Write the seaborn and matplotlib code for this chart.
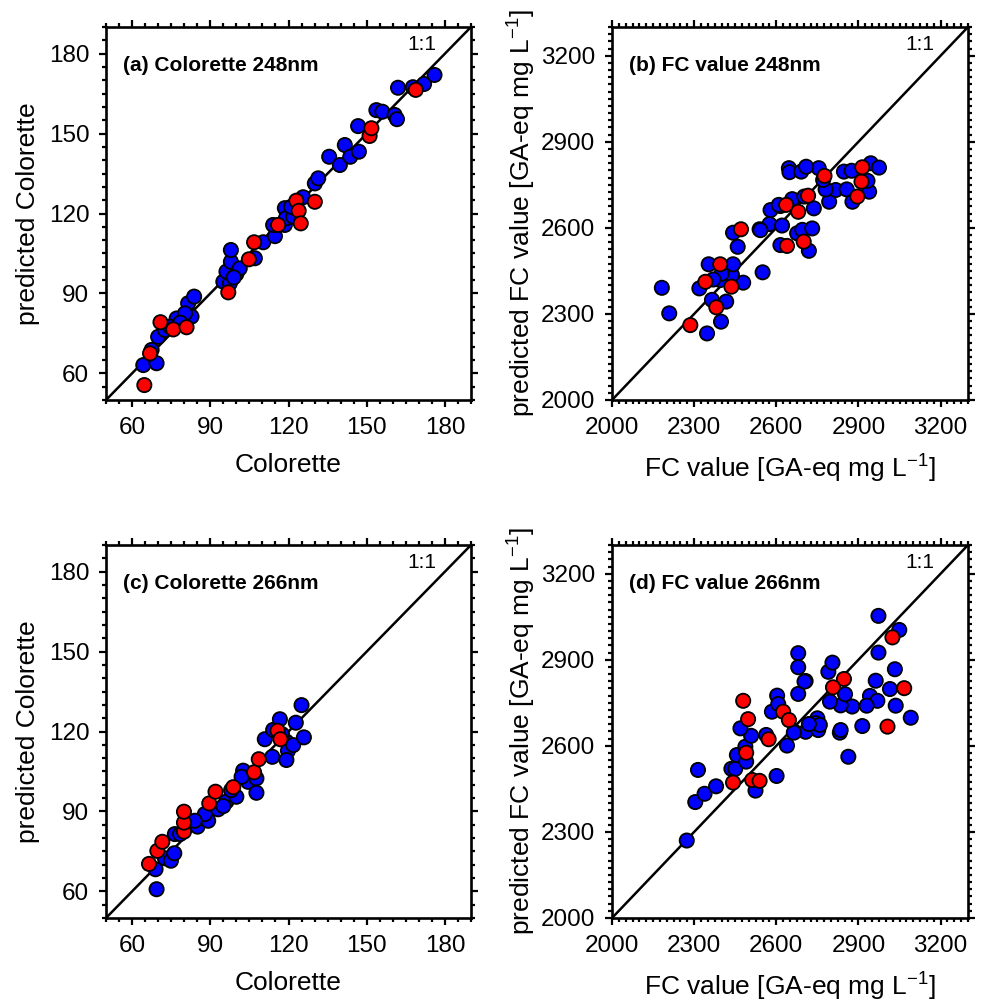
import numpy as np
import pandas as pd
import matplotlib
matplotlib.use("Agg")
import matplotlib.pyplot as plt
from matplotlib.ticker import MultipleLocator
import seaborn as sns

# ---- data read off the reference (x = measured, y = predicted) ----
# (a) Colorette 248nm
a_blue_x = [64.3, 69.4, 67.5, 70.0, 72.6, 77.1, 82.8, 81.5, 83.8, 80.3, 74.5, 78.5,
            95.0, 97.5, 96.2, 100.0, 97.9, 97.9, 101.3, 107.1, 110.3, 114.8, 114.1, 118.6,
            118.6, 119.0, 121.8, 125.6, 130.1, 131.4, 135.6, 139.7, 141.6, 143.7, 147.0,
            146.7, 153.7, 156.0, 160.7, 161.6, 162.0, 167.7, 172.0, 176.0, 99.0, 121.0]
a_blue_y = [63.1, 63.8, 68.8, 73.7, 76.3, 80.6, 81.3, 86.3, 88.8, 82.5, 77.5, 79.0,
            94.4, 93.8, 98.2, 97.3, 101.9, 106.3, 99.4, 103.2, 109.2, 111.5, 115.7, 115.7,
            122.0, 118.2, 118.8, 126.1, 131.3, 133.2, 141.3, 138.2, 145.7, 141.3, 143.2,
            152.8, 158.8, 158.2, 157.0, 155.4, 167.2, 167.4, 168.6, 172.0, 96.0, 122.5]
a_red_x = [64.7, 66.9, 70.9, 75.8, 80.9, 96.9, 104.8, 106.8, 116.0, 123.0, 123.9,
           124.7, 130.1, 151.1, 151.8, 168.8]
a_red_y = [55.6, 67.5, 79.2, 76.5, 77.3, 90.4, 102.8, 109.2, 115.7, 124.8, 121.0,
           116.3, 124.4, 149.1, 152.0, 166.4]

# (b) FC value 248nm
b_blue_x = [2182, 2209, 2347, 2398, 2365, 2417, 2319, 2395, 2479, 2438, 2353, 2442,
            2550, 2459, 2442, 2539, 2575, 2621, 2579, 2615, 2615, 2646, 2648, 2542,
            2609, 2658, 2737, 2702, 2793, 2817, 2780, 2857, 2878, 2939, 2933, 2945,
            2975, 2847, 2875, 2755, 2771, 2691, 2709, 2676, 2695, 2731, 2719, 2400, 2370]
b_blue_y = [2391, 2302, 2232, 2273, 2349, 2343, 2389, 2418, 2409, 2436, 2473, 2473,
            2445, 2534, 2583, 2595, 2613, 2608, 2662, 2676, 2540, 2808, 2794, 2592,
            2680, 2700, 2668, 2709, 2691, 2732, 2734, 2734, 2691, 2726, 2764, 2825,
            2810, 2796, 2799, 2808, 2767, 2796, 2813, 2581, 2593, 2598, 2520, 2440, 2420]
b_red_x = [2286, 2381, 2341, 2436, 2395, 2471, 2636, 2639, 2680, 2716, 2700, 2776,
           2896, 2911, 2914]
b_red_y = [2261, 2323, 2412, 2395, 2473, 2595, 2680, 2537, 2656, 2712, 2552, 2781,
           2709, 2761, 2811]

# (c) Colorette 266nm
c_blue_x = [69.4, 69.0, 72.6, 74.9, 76.2, 76.4, 78.4, 82.2, 85.1, 89.2, 87.9, 93.0,
            96.2, 100.0, 102.6, 104.5, 107.7, 107.7, 102.0, 113.8, 110.9, 114.1, 116.7,
            119.2, 119.8, 119.2, 121.8, 122.8, 125.9, 125.0, 95.0, 84.0, 98.0, 117.5]
c_blue_y = [60.8, 68.3, 72.4, 71.5, 74.3, 81.5, 81.5, 85.3, 84.3, 86.5, 89.0, 90.8,
            93.7, 95.5, 105.3, 101.1, 102.4, 97.0, 103.0, 110.5, 117.1, 120.6, 124.6,
            116.2, 112.8, 109.3, 114.9, 123.3, 117.8, 129.9, 92.0, 86.5, 98.0, 119.0]
c_red_x = [66.5, 69.7, 71.6, 79.9, 79.9, 79.9, 89.6, 92.0, 98.8, 106.8, 108.6, 115.8, 116.9]
c_red_y = [70.3, 75.2, 78.6, 82.4, 85.8, 89.9, 93.0, 97.4, 99.1, 104.7, 109.6, 120.3, 117.1]

# (d) FC value 266nm
d_blue_x = [2273, 2304, 2314, 2338, 2380, 2436, 2450, 2456, 2490, 2487, 2508, 2469,
            2524, 2601, 2563, 2584, 2603, 2607, 2639, 2666, 2680, 2680, 2707, 2680,
            2707, 2725, 2750, 2750, 2973, 3049, 2973, 3033, 2963, 3015, 2942, 2969,
            3036, 2930, 3091, 2914, 2863, 2832, 2835, 2877, 2835, 2796, 2851, 2790,
            2805, 2703, 2664, 2753, 2743, 2759, 2719]
d_blue_y = [2270, 2404, 2516, 2433, 2459, 2520, 2520, 2568, 2545, 2597, 2635, 2661,
            2444, 2495, 2638, 2719, 2775, 2746, 2601, 2649, 2923, 2874, 2826, 2781,
            2649, 2676, 2696, 2667, 3053, 3004, 2925, 2867, 2827, 2798, 2774, 2757,
            2740, 2740, 2698, 2669, 2562, 2646, 2655, 2737, 2741, 2754, 2780, 2858,
            2890, 2824, 2646, 2655, 2679, 2673, 2676]
d_red_x = [2442, 2490, 2497, 2479, 2512, 2539, 2572, 2625, 2646, 3024, 3067, 3006,
           2847, 2807]
d_red_y = [2472, 2576, 2693, 2757, 2481, 2478, 2623, 2719, 2690, 2978, 2801, 2667,
           2833, 2804]

titles = ["(a) Colorette 248nm", "(b) FC value 248nm",
          "(c) Colorette 266nm", "(d) FC value 266nm"]
col_ticks = [60, 90, 120, 150, 180]
fc_ticks = [2000, 2300, 2600, 2900, 3200]


def make_df(bx, by, rx, ry):
    blue = pd.DataFrame({"obs": bx, "pred": by, "set": "calibration"})
    red = pd.DataFrame({"obs": rx, "pred": ry, "set": "validation"})
    return pd.concat([blue, red], ignore_index=True)


panels = [
    (make_df(a_blue_x, a_blue_y, a_red_x, a_red_y), "col"),
    (make_df(b_blue_x, b_blue_y, b_red_x, b_red_y), "fc"),
    (make_df(c_blue_x, c_blue_y, c_red_x, c_red_y), "col"),
    (make_df(d_blue_x, d_blue_y, d_red_x, d_red_y), "fc"),
]

sns.set_theme(style="white")
plt.rcParams["font.family"] = ["Liberation Sans", "DejaVu Sans"]
plt.rcParams["mathtext.fontset"] = "custom"
plt.rcParams["mathtext.rm"] = "Liberation Sans"
plt.rcParams["mathtext.it"] = "Liberation Sans:italic"
plt.rcParams["text.color"] = "black"
plt.rcParams["axes.labelcolor"] = "black"

fig = plt.figure(figsize=(9.83, 10.06), dpi=100)
W, H = 983, 1006
# axes boxes in pixels: left, top, right, bottom
boxes = [(106, 27, 471, 400), (612, 27, 968, 400),
         (106, 545, 471, 918), (612, 545, 968, 918)]

fc_label = r"FC value [GA-eq mg L$^{\mathregular{-1}}$]"

for i, ((df, kind), box) in enumerate(zip(panels, boxes)):
    l, t, r, b = box
    ax = fig.add_axes([l / W, 1 - b / H, (r - l) / W, (b - t) / H])
    if kind == "col":
        lo, hi, ticks, minor = 50, 190, col_ticks, 5
    else:
        lo, hi, ticks, minor = 2000, 3300, fc_ticks, 25

    ax.plot([lo, hi], [lo, hi], color="black", lw=1.8, zorder=1)
    sns.scatterplot(data=df, x="obs", y="pred", hue="set",
                    palette={"calibration": "#0000ff", "validation": "#ff0000"},
                    s=105, edgecolor="black", linewidth=1.3, legend=False,
                    ax=ax, zorder=3)

    ax.set_xlim(lo, hi)
    ax.set_ylim(lo, hi)
    ax.set_xticks(ticks)
    ax.set_yticks(ticks)
    ax.xaxis.set_minor_locator(MultipleLocator(minor))
    ax.yaxis.set_minor_locator(MultipleLocator(minor))
    ax.tick_params(which="both", direction="out", top=True, right=True,
                   bottom=True, left=True, width=1.6, labelsize=17.5,
                   colors="black", labelcolor="black")
    ax.tick_params(which="major", length=5, pad=7)
    ax.tick_params(which="minor", length=3)
    for sp in ax.spines.values():
        sp.set_linewidth(1.9)
        sp.set_color("black")

    if kind == "col":
        ax.set_xlabel("Colorette", fontsize=19, labelpad=10)
        ax.set_ylabel("predicted Colorette", fontsize=19, labelpad=6)
    else:
        ax.set_xlabel(fc_label, fontsize=19, labelpad=10)
        ax.set_ylabel("predicted " + fc_label, fontsize=19, labelpad=2)

    ax.text(0.047, 0.898, titles[i], transform=ax.transAxes, fontsize=15,
            fontweight="bold", va="center", ha="left", color="black")
    ax.text(0.905, 0.952, "1:1", transform=ax.transAxes, fontsize=15,
            va="center", ha="right", color="black")

fig.savefig("out.png", dpi=100)
